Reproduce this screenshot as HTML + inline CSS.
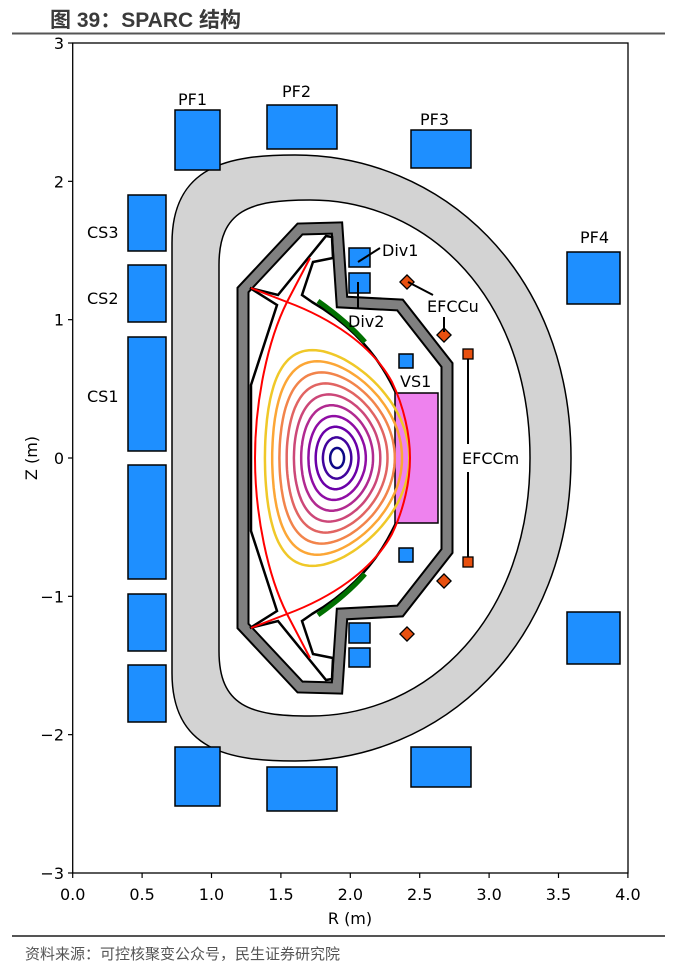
<!DOCTYPE html>
<html><head><meta charset="utf-8"><style>
body{margin:0;background:#fff;}
svg{display:block;}
.t{font-family:"DejaVu Sans","Liberation Sans",sans-serif;font-size:16px;fill:#000;}
</style></head><body>
<svg id="s" width="679" height="973" viewBox="0 0 679 973" xmlns="http://www.w3.org/2000/svg">
<text x="50" y="27" style="font-family:'Liberation Sans','Noto Sans CJK SC',sans-serif;font-size:21px;font-weight:bold;fill:#3a3a3a">图 39：SPARC 结构</text>
<line x1="12" y1="33.5" x2="665" y2="33.5" stroke="#555" stroke-width="2"/>
<path d="M172,243 C172,165 230,155 295,155 C440,155 571,270 571,458 C571,646 440,761 295,761 C230,761 172,751 172,673 Z" fill="#d3d3d3" stroke="#000" stroke-width="1.5"/>
<path d="M219,265 C219,210 250,200 310,200 C430,200 530,300 530,458 C530,616 430,716 310,716 C250,716 219,706 219,651 Z" fill="#fff" stroke="#000" stroke-width="1.5"/>
<g fill="none" stroke-linejoin="miter">
<path d="M243,290 L300,229 L337,228 L342,302 L400,305 L447,365 L447,551 L400,611 L342,614 L337,688 L300,687 L243,626 Z" stroke="#000" stroke-width="13"/>
<path d="M243,290 L300,229 L337,228 L342,302 L400,305 L447,365 L447,551 L400,611 L342,614 L337,688 L300,687 L243,626 Z" stroke="#808080" stroke-width="9"/>
</g>
<path d="M251,458 L251,385 L277,305 L250,288 L278,295 L326,236 L332,237 L333,258 L313,262 L302,295 L312,302 C340,318 372,345 392,385 C405,410 412,435 412,458 C412,481 405,506 392,531 C372,571 340,598 312,614 L302,621 L313,654 L333,658 L332,679 L326,680 L278,621 L250,628 L277,611 L251,531 Z" fill="#fff" stroke="#000" stroke-width="2.5" stroke-linejoin="miter"/>
<rect x="395" y="393" width="43" height="130" fill="#ee82ee" stroke="#000" stroke-width="1.5"/>
<g id="contours" fill="none" stroke-width="2.5"></g>
<g fill="none" stroke="#ff0000" stroke-width="2">
<path d="M251,288 L287,302 C330,318 372,345 392,382 C404,407 410,435 410,458 C410,481 404,509 392,534 C372,571 330,598 287,614 L251,628"/>
<path d="M310,258 L287,302 C268,340 255,400 255,458 C255,516 268,576 287,614 L310,658"/>
</g>
<g stroke="#007000" stroke-width="5" fill="none">
<path d="M318,301 C335,313 352,327 365,342"/>
<path d="M318,615 C335,603 352,589 365,574"/>
</g>
<g fill="#1e8fff" stroke="#000" stroke-width="1.5">
<rect x="175" y="110" width="45" height="60"/><rect x="267" y="105" width="70" height="44"/>
<rect x="411" y="130" width="60" height="38"/><rect x="567" y="252" width="53" height="52"/>
<rect x="128" y="195" width="38" height="56"/><rect x="128" y="265" width="38" height="57"/>
<rect x="128" y="337" width="38" height="114"/><rect x="128" y="465" width="38" height="114"/>
<rect x="128" y="594" width="38" height="57"/><rect x="128" y="665" width="38" height="57"/>
<rect x="175" y="747" width="45" height="59"/><rect x="267" y="767" width="70" height="44"/>
<rect x="411" y="747" width="60" height="40"/><rect x="567" y="612" width="53" height="52"/>
<rect x="399" y="354" width="14" height="14"/><rect x="399" y="548" width="14" height="14"/>
<rect x="349" y="248" width="21" height="19"/><rect x="349" y="273" width="21" height="20"/>
<rect x="349" y="623" width="21" height="20"/><rect x="349" y="648" width="21" height="19"/>
</g>
<g fill="#e8500f" stroke="#000" stroke-width="1.3">
<rect x="402" y="277" width="10" height="10" transform="rotate(45 407 282)"/>
<rect x="439" y="330" width="10" height="10" transform="rotate(45 444 335)"/>
<rect x="402" y="629" width="10" height="10" transform="rotate(45 407 634)"/>
<rect x="439" y="576" width="10" height="10" transform="rotate(45 444 581)"/>
<rect x="463" y="349" width="10" height="10"/><rect x="463" y="557" width="10" height="10"/>
</g>
<g stroke="#000" stroke-width="2">
<line x1="468" y1="359" x2="468" y2="444"/><line x1="468" y1="472" x2="468" y2="557"/>
<line x1="358" y1="262" x2="380" y2="248"/><line x1="358" y1="282" x2="358" y2="309"/>
<line x1="408" y1="282" x2="433" y2="295"/><line x1="444" y1="317" x2="444" y2="332"/>
</g>
<g class="t">
<text x="178" y="105">PF1</text><text x="282" y="97">PF2</text><text x="420" y="125">PF3</text><text x="580" y="243">PF4</text>
<text x="87" y="238">CS3</text><text x="87" y="304">CS2</text><text x="87" y="402">CS1</text>
<text x="382" y="256">Div1</text><text x="348" y="327">Div2</text><text x="427" y="312">EFCCu</text>
<text x="400" y="387">VS1</text><text x="462" y="464">EFCCm</text>
</g>
<rect x="72.7" y="43" width="555.3" height="830" fill="none" stroke="#000" stroke-width="1.3"/>
<g id="ticks" stroke="#000" stroke-width="1.2"></g>
<g class="t" id="tl"></g>
<text class="t" x="350" y="924" text-anchor="middle">R (m)</text>
<text class="t" transform="translate(37,458) rotate(-90)" text-anchor="middle">Z (m)</text>
<line x1="12" y1="936" x2="665" y2="936" stroke="#555" stroke-width="2"/>
<text x="25" y="959" style="font-family:'Liberation Sans','Noto Sans CJK SC',sans-serif;font-size:15px;fill:#555">资料来源：可控核聚变公众号，民生证券研究院</text>
</svg>
<script>
var NS="http://www.w3.org/2000/svg";
function el(p,n,a,t){var e=document.createElementNS(NS,n);for(var k in a)e.setAttribute(k,a[k]);if(t!==undefined)e.textContent=t;p.appendChild(e);return e;}
var sx=138.8,sy=138.33,x0=72.7,y0=458;
var cols=["#0d0887","#41049d","#6a00a8","#8f0da4","#b12a90","#cc4778","#e16462","#f2844b","#fca636","#f0c828"];
var cg=document.getElementById("contours");
for(var i=0;i<10;i++){var f=i/9;var a=0.05+0.47*f,R0=1.905,k=1.45+0.05*f,d=0.35*f;
var s="";for(var j=0;j<=120;j++){var t=2*Math.PI*j/120;var R=R0+a*Math.cos(t+d*Math.sin(t)),Z=k*a*Math.sin(t);
s+=(j?"L":"M")+(x0+R*sx).toFixed(1)+","+(y0-Z*sy).toFixed(1);}
el(cg,"path",{d:s+"Z",stroke:cols[i]});}
var tk=document.getElementById("ticks"),tl=document.getElementById("tl");
for(var v=0;v<=8;v++){var x=x0+v*0.5*sx;el(tk,"line",{x1:x,y1:873,x2:x,y2:878});el(tl,"text",{x:x,y:900,"text-anchor":"middle"},(v*0.5).toFixed(1));}
for(var z=-3;z<=3;z++){var y=y0-z*sy;el(tk,"line",{x1:68,y1:y,x2:72.7,y2:y});el(tl,"text",{x:64,y:y+6,"text-anchor":"end"},(z<0?"\u2212"+(-z):""+z));}
</script>
</body></html>
